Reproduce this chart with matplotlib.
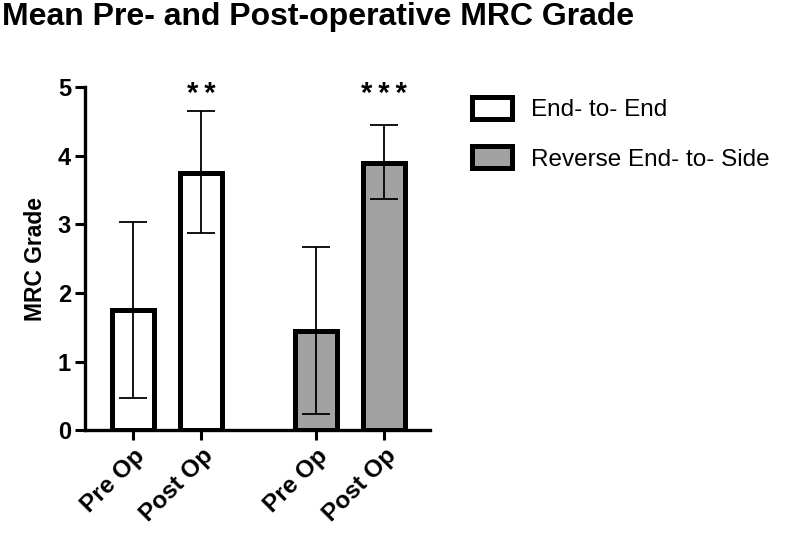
import matplotlib
matplotlib.use("Agg")
import matplotlib.pyplot as plt
from matplotlib.patches import Patch

plt.rcParams['font.family'] = ['Liberation Sans', 'DejaVu Sans']

# data
groups = ['End- to- End', 'Reverse End- to- Side']
tick_labels = ['Pre Op', 'Post Op', 'Pre Op', 'Post Op']
means = [1.75, 3.75, 1.45, 3.90]
err_low = [0.47, 2.87, 0.24, 3.37]
err_high = [3.03, 4.65, 2.67, 4.45]
stars = ['', '**', '', '***']
fills = ['white', 'white', '#a2a2a2', '#a2a2a2']

xpos = [0, 1, 2.69, 3.69]

fig = plt.figure(figsize=(8, 5.35), dpi=100)
ax = fig.add_axes([0.106, 0.196, 0.432, 0.641])

ax.bar(xpos, means, width=0.62, color=fills, edgecolor='black', linewidth=3.6, zorder=2)
yerr = [[m - lo for m, lo in zip(means, err_low)], [hi - m for m, hi in zip(means, err_high)]]
ax.errorbar(xpos, means, yerr=yerr, fmt='none', ecolor='black', elinewidth=1.3,
            capsize=10, capthick=1.3, zorder=3)

# significance stars, a little spaced out like the original
for x, s in zip(xpos, stars):
    if s:
        ax.text(x, 4.9, '\u2009'.join(s), ha='center', va='center', fontsize=21,
                fontweight='bold', clip_on=False)

ax.set_xlim(-0.71, 4.37)
ax.set_ylim(0, 5)
ax.set_xticks(xpos)
ax.set_xticklabels(tick_labels, rotation=45, ha='right', rotation_mode='anchor',
                   fontsize=17.5, fontweight='bold')
ax.set_yticks([0, 1, 2, 3, 4, 5])
ax.set_yticklabels(['0', '1', '2', '3', '4', '5'], fontsize=17, fontweight='bold')
ax.set_ylabel('MRC Grade', fontsize=16.5, fontweight='bold', labelpad=8)
ax.tick_params(axis='both', width=2.2, length=7, direction='out', pad=3)
for side in ['top', 'right']:
    ax.spines[side].set_visible(False)
for side in ['left', 'bottom']:
    ax.spines[side].set_linewidth(2.4)

handles = [Patch(facecolor='white', edgecolor='black', linewidth=3.6),
           Patch(facecolor='#a2a2a2', edgecolor='black', linewidth=3.6)]
fig.legend(handles, groups, loc='upper left', bbox_to_anchor=(0.5625, 0.86),
           frameon=False, fontsize=17.5, handlelength=1.65, handleheight=1.0,
           labelspacing=1.05, handletextpad=0.8)

fig.text(0.003, 0.953, 'Mean Pre- and Post-operative MRC Grade', fontsize=23,
         fontweight='bold', ha='left', va='baseline')

fig.savefig('out.png', dpi=100)
